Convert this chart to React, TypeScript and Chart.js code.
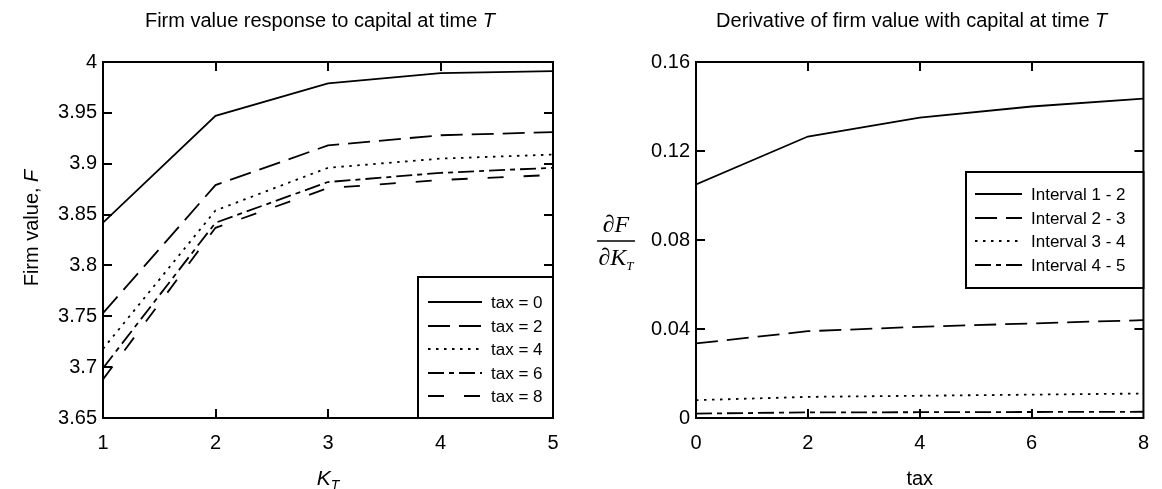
import React, { useEffect, useRef } from "react";
import { Chart, registerables } from "chart.js";
Chart.register(...registerables);

// ---------- data ----------
const capitalK = [1, 2, 3, 4, 5];
const firmTax0 = [3.842, 3.947, 3.979, 3.989, 3.991];
const firmTax2 = [3.753, 3.879, 3.918, 3.928, 3.931];
const firmTax4 = [3.718, 3.854, 3.896, 3.905, 3.909];
const firmTax6 = [3.699, 3.842, 3.882, 3.891, 3.896];
const firmTax8 = [3.688, 3.837, 3.876, 3.884, 3.889];
const leftLabels = ["tax = 0", "tax = 2", "tax = 4", "tax = 6", "tax = 8"];
const leftXTicks = [1, 2, 3, 4, 5];
const leftYTicks = [3.65, 3.7, 3.75, 3.8, 3.85, 3.9, 3.95, 4];

const taxLevels = [0, 2, 4, 6, 8];
const deriv12 = [0.105, 0.1265, 0.135, 0.14, 0.1435];
const deriv23 = [0.0335, 0.039, 0.041, 0.0425, 0.044];
const deriv34 = [0.008, 0.0095, 0.01, 0.0105, 0.011];
const deriv45 = [0.002, 0.0025, 0.0026, 0.0027, 0.0028];
const rightLabels = ["Interval 1 - 2", "Interval 2 - 3", "Interval 3 - 4", "Interval 4 - 5"];
const rightXTicks = [0, 2, 4, 6, 8];
const rightYTicks = [0, 0.04, 0.08, 0.12, 0.16];

// ---------- styles ----------
const SANS = "'Liberation Sans', Arial, sans-serif";
const SERIF = "'Liberation Serif', 'Times New Roman', serif";
const DASH_SOLID: number[] = [];
const DASH_LONG = [22, 9];
const DASH_DOT = [2.5, 5.5];
const DASH_DASHDOT = [16, 5, 5, 5];
const DASH_SPARSE = [16, 20];
const LW = 1.8;
const TICK_SIZE = 20;
const LABEL_SIZE = 20;
const LEGEND_SIZE = 17;

type Run = { text: string; font: string; dy?: number };

function runsWidth(ctx: CanvasRenderingContext2D, runs: Run[]) {
  let w = 0;
  for (const r of runs) {
    ctx.font = r.font;
    w += ctx.measureText(r.text).width;
  }
  return w;
}
function drawRuns(ctx: CanvasRenderingContext2D, runs: Run[], x: number, y: number, align: "left" | "center") {
  const w = runsWidth(ctx, runs);
  let cx = align === "center" ? x - w / 2 : x;
  ctx.textAlign = "left";
  ctx.textBaseline = "alphabetic";
  ctx.fillStyle = "#000";
  for (const r of runs) {
    ctx.font = r.font;
    ctx.fillText(r.text, cx, y + (r.dy || 0));
    cx += ctx.measureText(r.text).width;
  }
}

function drawFrame(chart: any, xTicks: number[], yTicks: number[]) {
  const ctx: CanvasRenderingContext2D = chart.ctx;
  const a = chart.chartArea;
  const xs = chart.scales.x;
  const ys = chart.scales.y;
  const tl = 9;
  ctx.save();
  ctx.strokeStyle = "#000";
  ctx.lineWidth = 2;
  ctx.setLineDash([]);
  ctx.beginPath();
  for (const v of xTicks) {
    const px = Math.round(xs.getPixelForValue(v));
    if (px <= a.left + 1 || px >= a.right - 1) continue;
    ctx.moveTo(px, a.bottom);
    ctx.lineTo(px, a.bottom - tl);
    ctx.moveTo(px, a.top);
    ctx.lineTo(px, a.top + tl);
  }
  for (const v of yTicks) {
    const py = Math.round(ys.getPixelForValue(v));
    if (py <= a.top + 1 || py >= a.bottom - 1) continue;
    ctx.moveTo(a.left, py);
    ctx.lineTo(a.left + tl, py);
    ctx.moveTo(a.right, py);
    ctx.lineTo(a.right - tl, py);
  }
  ctx.stroke();
  ctx.strokeRect(a.left, a.top, a.right - a.left, a.bottom - a.top);
  ctx.restore();
}

function drawLegend(
  ctx: CanvasRenderingContext2D,
  box: { x1: number; y1: number; x2: number; y2: number },
  labels: string[],
  dashes: number[][],
  rowY: number[],
  lx1: number,
  lx2: number,
  tx: number,
  font: string
) {
  ctx.save();
  ctx.fillStyle = "#fff";
  ctx.fillRect(box.x1, box.y1, box.x2 - box.x1, box.y2 - box.y1);
  ctx.strokeStyle = "#000";
  ctx.lineWidth = 2;
  ctx.setLineDash([]);
  ctx.strokeRect(box.x1, box.y1, box.x2 - box.x1, box.y2 - box.y1);
  labels.forEach((lab, i) => {
    ctx.lineWidth = LW;
    ctx.setLineDash(dashes[i]);
    ctx.beginPath();
    ctx.moveTo(lx1, rowY[i]);
    ctx.lineTo(lx2, rowY[i]);
    ctx.stroke();
    ctx.setLineDash([]);
    ctx.font = font;
    ctx.fillStyle = "#000";
    ctx.textAlign = "left";
    ctx.textBaseline = "middle";
    ctx.fillText(lab, tx, rowY[i] + 1);
  });
  ctx.restore();
}

function ds(label: string, xs: number[], ys: number[], dash: number[]) {
  return {
    label,
    data: xs.map((x, i) => ({ x, y: ys[i] })),
    borderColor: "#000",
    borderWidth: LW,
    borderDash: dash,
    pointRadius: 0,
    fill: false,
    tension: 0,
  };
}

const fmt = (v: number) => String(parseFloat(Number(v).toFixed(3)));

function baseOptions(
  xMin: number,
  xMax: number,
  yMin: number,
  yMax: number,
  xTicks: number[],
  yTicks: number[],
  yWidth: number,
  padRight: number
) {
  return {
    responsive: false,
    animation: false,
    devicePixelRatio: 1,
    layout: { padding: { left: 0, right: padRight, top: 62, bottom: 0 } },
    plugins: { legend: { display: false }, tooltip: { enabled: false }, title: { display: false } },
    scales: {
      x: {
        type: "linear",
        min: xMin,
        max: xMax,
        afterBuildTicks: (s: any) => {
          s.ticks = xTicks.map((v) => ({ value: v }));
        },
        afterFit: (s: any) => {
          s.height = 71;
        },
        grid: { display: false, drawTicks: false },
        border: { display: false },
        ticks: {
          color: "#000",
          font: { family: SANS, size: TICK_SIZE },
          padding: 13,
          maxRotation: 0,
          autoSkip: false,
          callback: (v: any) => fmt(v),
        },
      },
      y: {
        type: "linear",
        min: yMin,
        max: yMax,
        afterBuildTicks: (s: any) => {
          s.ticks = yTicks.map((v) => ({ value: v }));
        },
        afterFit: (s: any) => {
          s.width = yWidth;
        },
        grid: { display: false, drawTicks: false },
        border: { display: false },
        ticks: {
          color: "#000",
          font: { family: SANS, size: TICK_SIZE },
          padding: 6,
          autoSkip: false,
          callback: (v: any) => fmt(v),
        },
      },
    },
  };
}

export default function App() {
  const leftRef = useRef<HTMLCanvasElement>(null);
  const rightRef = useRef<HTMLCanvasElement>(null);

  useEffect(() => {
    const leftPlugin = {
      id: "leftDeco",
      afterDraw(chart: any) {
        const ctx: CanvasRenderingContext2D = chart.ctx;
        drawFrame(chart, leftXTicks, leftYTicks);
        const a = chart.chartArea;
        const cx = (a.left + a.right) / 2;
        drawRuns(
          ctx,
          [
            { text: "Firm value response to capital at time ", font: `${LABEL_SIZE}px ${SANS}` },
            { text: "T", font: `italic ${LABEL_SIZE}px ${SANS}` },
          ],
          cx - 8,
          27,
          "center"
        );
        drawRuns(
          ctx,
          [
            { text: "K", font: `italic ${LABEL_SIZE + 1}px ${SANS}` },
            { text: "T", font: `italic 14px ${SANS}`, dy: 5 },
          ],
          cx,
          485,
          "center"
        );
        ctx.save();
        ctx.translate(38, 228);
        ctx.rotate(-Math.PI / 2);
        drawRuns(
          ctx,
          [
            { text: "Firm value, ", font: `${LABEL_SIZE}px ${SANS}` },
            { text: "F", font: `italic ${LABEL_SIZE}px ${SANS}` },
          ],
          0,
          0,
          "center"
        );
        ctx.restore();
        drawLegend(
          ctx,
          { x1: 418, y1: 277, x2: a.right, y2: a.bottom },
          leftLabels,
          [DASH_SOLID, DASH_LONG, DASH_DOT, DASH_DASHDOT, DASH_SPARSE],
          [302, 326, 349, 373, 396],
          428,
          482,
          491,
          `${LEGEND_SIZE}px ${SANS}`
        );
      },
    };
    const rightPlugin = {
      id: "rightDeco",
      afterDraw(chart: any) {
        const ctx: CanvasRenderingContext2D = chart.ctx;
        drawFrame(chart, rightXTicks, rightYTicks);
        const a = chart.chartArea;
        const cx = (a.left + a.right) / 2;
        drawRuns(
          ctx,
          [
            { text: "Derivative of firm value with capital at time ", font: `${LABEL_SIZE}px ${SANS}` },
            { text: "T", font: `italic ${LABEL_SIZE}px ${SANS}` },
          ],
          cx - 8,
          27,
          "center"
        );
        drawRuns(ctx, [{ text: "tax", font: `${LABEL_SIZE}px ${SANS}` }], cx, 485, "center");
        // fraction label dF / dK_T
        const fx = 35;
        ctx.save();
        drawRuns(ctx, [{ text: "\u2202F", font: `italic 24px ${SERIF}` }], fx, 232, "center");
        ctx.strokeStyle = "#000";
        ctx.lineWidth = 1.5;
        ctx.beginPath();
        ctx.moveTo(fx - 19, 241);
        ctx.lineTo(fx + 19, 241);
        ctx.stroke();
        drawRuns(
          ctx,
          [
            { text: "\u2202K", font: `italic 24px ${SERIF}` },
            { text: "T", font: `italic 13px ${SERIF}`, dy: 5 },
          ],
          fx,
          265,
          "center"
        );
        ctx.restore();
        drawLegend(
          ctx,
          { x1: 966 - 581, y1: 172, x2: a.right, y2: 288 },
          rightLabels,
          [DASH_SOLID, DASH_LONG, DASH_DOT, DASH_DASHDOT],
          [194, 218, 241, 265],
          975 - 581,
          1022 - 581,
          1031 - 581,
          `${LEGEND_SIZE}px ${SANS}`
        );
      },
    };

    const left = new Chart(leftRef.current!, {
      type: "line",
      data: {
        datasets: [
          ds(leftLabels[0], capitalK, firmTax0, DASH_SOLID),
          ds(leftLabels[1], capitalK, firmTax2, DASH_LONG),
          ds(leftLabels[2], capitalK, firmTax4, DASH_DOT),
          ds(leftLabels[3], capitalK, firmTax6, DASH_DASHDOT),
          ds(leftLabels[4], capitalK, firmTax8, DASH_SPARSE),
        ],
      } as any,
      options: baseOptions(1, 5, 3.65, 4, leftXTicks, leftYTicks, 103, 581 - 553) as any,
      plugins: [leftPlugin],
    });
    const right = new Chart(rightRef.current!, {
      type: "line",
      data: {
        datasets: [
          ds(rightLabels[0], taxLevels, deriv12, DASH_SOLID),
          ds(rightLabels[1], taxLevels, deriv23, DASH_LONG),
          ds(rightLabels[2], taxLevels, deriv34, DASH_DOT),
          ds(rightLabels[3], taxLevels, deriv45, DASH_DASHDOT),
        ],
      } as any,
      options: baseOptions(0, 8, 0, 0.16, rightXTicks, rightYTicks, 696 - 581, 10) as any,
      plugins: [rightPlugin],
    });
    return () => {
      left.destroy();
      right.destroy();
    };
  }, []);

  return (
    <div style={{ position: "absolute", left: 0, top: 0, width: 1162, height: 489, background: "#fff" }}>
      <canvas ref={leftRef} width={581} height={489} style={{ position: "absolute", left: 0, top: 0, width: 581, height: 489 }} />
      <canvas ref={rightRef} width={581} height={489} style={{ position: "absolute", left: 581, top: 0, width: 581, height: 489 }} />
    </div>
  );
}
